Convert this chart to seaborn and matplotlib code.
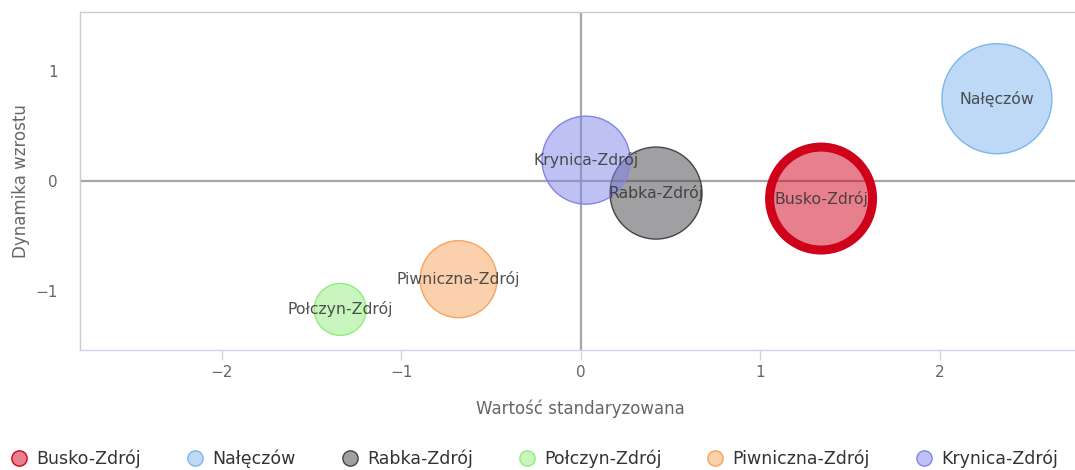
import pandas as pd
import seaborn as sns
import matplotlib.pyplot as plt
from matplotlib.colors import to_rgb
from matplotlib.lines import Line2D

# bubble data
towns = ['Busko-Zdrój', 'Nałęczów', 'Rabka-Zdrój', 'Połczyn-Zdrój', 'Piwniczna-Zdrój', 'Krynica-Zdrój']
std_value = [1.34, 2.32, 0.42, -1.34, -0.68, 0.03]
growth = [-0.16, 0.75, -0.11, -1.17, -0.895, 0.19]
bubble_z = [2650, 3025, 2116, 676, 1482, 1936]

edge_colors = ['#d0021b', '#7cb5ec', '#434348', '#90ed7d', '#f7a35c', '#8085e9']
edge_widths = [6.5, 1.0, 1.0, 1.0, 1.0, 1.0]

df = pd.DataFrame({'town': towns, 'x': std_value, 'y': growth, 'z': bubble_z})

sns.set_style('white')
plt.rcParams['font.family'] = ['DejaVu Sans']

dpi = 100
fig = plt.figure(figsize=(10.75, 4.7), dpi=dpi)
ax = fig.add_axes([80 / 1075, 120 / 470, 995 / 1075, 338 / 470])

# zero lines
ax.axvline(0, color='#a6a6a6', lw=1.6, zorder=1)
ax.axhline(0, color='#a6a6a6', lw=1.6, zorder=1)

# area of marker in points^2: radius px -> diameter pt
def px_area(r_px):
    return (2 * r_px * 72 / dpi) ** 2

faces = {t: c for t, c in zip(towns, edge_colors)}
sns.scatterplot(data=df, x='x', y='y', hue='town', palette=faces, size='z',
                sizes=(px_area(26), px_area(55)), size_norm=(676, 3025),
                edgecolor=edge_colors, linewidth=edge_widths, legend=False,
                ax=ax, zorder=3)
coll = ax.collections[-1]
fc = coll.get_facecolors()
fc[:, 3] = 0.5
coll.set_facecolors(fc)
coll.set_edgecolors(edge_colors)
coll.set_linewidths(edge_widths)

for t, x, y in zip(towns, std_value, growth):
    ax.text(x, y, t, ha='center', va='center', fontsize=11.3, color='#333333',
            alpha=0.85, zorder=4)

ax.set_xlim(-2.79, 2.755)
ax.set_ylim(-1.54, 1.54)
ax.set_xticks([-2, -1, 0, 1, 2])
ax.set_yticks([-1, 0, 1])
ax.set_xticklabels(['−2', '−1', '0', '1', '2'])
ax.set_yticklabels(['−1', '0', '1'])
ax.tick_params(axis='x', colors='#ccd6eb', length=7, width=1, direction='out',
               bottom=True, labelcolor='#666666', labelsize=11, pad=4)
ax.tick_params(axis='y', length=0, labelcolor='#666666', labelsize=11, pad=16)

ax.spines['right'].set_visible(False)
ax.spines['left'].set_color('#cccccc')
ax.spines['top'].set_color('#cccccc')
ax.spines['bottom'].set_color('#ccd6eb')
for s in ['left', 'top', 'bottom']:
    ax.spines[s].set_linewidth(1)

ax.set_xlabel('Wartość standaryzowana', color='#666666', fontsize=12)
ax.set_ylabel('Dynamika wzrostu', color='#666666', fontsize=12)
ax.xaxis.set_label_coords(0.503, -0.145)
ax.yaxis.set_label_coords(-0.05, 0.5)

handles = []
for c in edge_colors:
    handles.append(Line2D([], [], marker='o', linestyle='none', markersize=11,
                          markerfacecolor=(*to_rgb(c), 0.5),
                          markeredgecolor=c, markeredgewidth=1))
fig.legend(handles, towns, loc='lower center', ncol=6, frameon=False,
           bbox_to_anchor=(0.497, -0.03), fontsize=12.5, labelcolor='#333333',
           handletextpad=0.5, columnspacing=2.6, handlelength=1.0)

fig.savefig('out.png', dpi=dpi)
